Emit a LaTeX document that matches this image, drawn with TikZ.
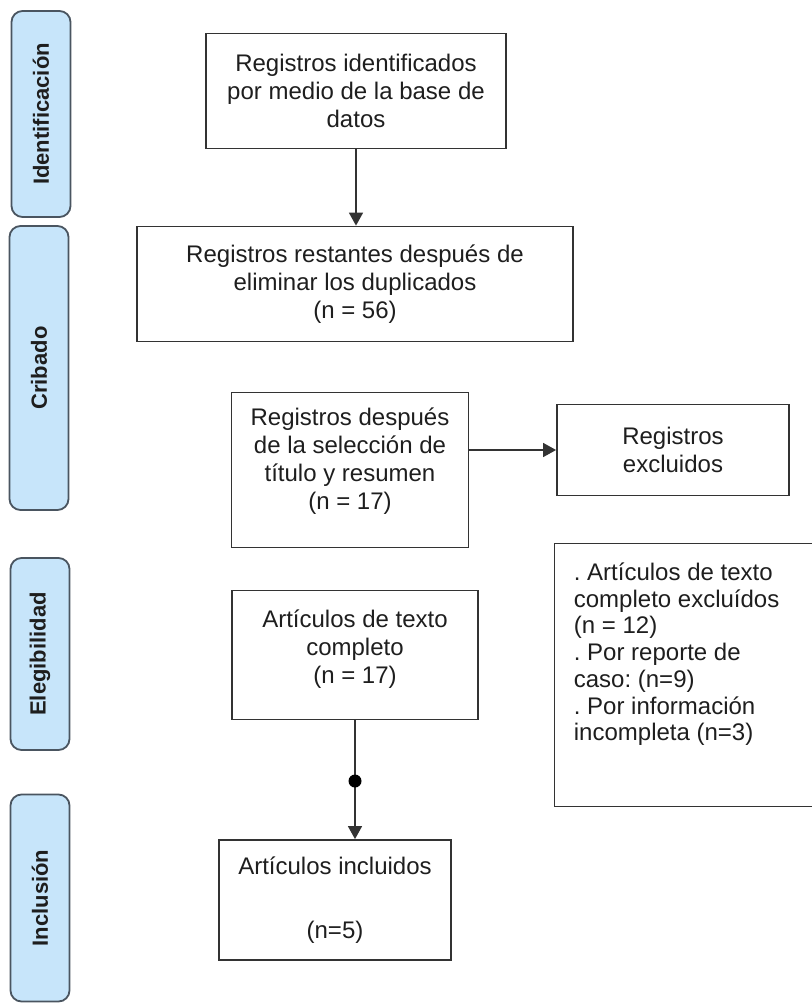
\documentclass[tikz,border=0pt]{standalone}
\usepackage{fontspec}
\setmainfont{Liberation Sans}
\usetikzlibrary{arrows.meta}
\definecolor{stagefill}{HTML}{C7E5FA}
\definecolor{stageline}{HTML}{4A5560}
\definecolor{boxline}{HTML}{333333}
\definecolor{txt}{HTML}{1E1E1E}
\frenchspacing

\begin{document}
\begin{tikzpicture}[x=1pt,y=-1pt,
  stage node/.style={draw=stageline,fill=stagefill,line width=1.8pt,rounded corners=11pt,rotate=90,minimum height=59pt,inner sep=0pt,font=\fontsize{22}{26}\selectfont\bfseries,text=txt},
  main node/.style={draw=boxline,line width=1.8pt,inner sep=0pt,align=center,font=\fontsize{24}{28}\selectfont,text=txt},
  dot node/.style={circle,fill=black,inner sep=0pt,minimum size=13pt}]

  \useasboundingbox (0,0) rectangle (812,1005);

  % stages
  \node[stage node,minimum width=206pt] at (41,114) (ident) {Identificación};
  \node[stage node,minimum width=284pt] at (39,368) (crib) {Cribado};
  \node[stage node,minimum width=192pt] at (40,654) (eleg) {Elegibilidad};
  \node[stage node,minimum width=207pt] at (40,898) (inclu) {Inclusión};

  % boxes
  \node[main node,minimum width=300pt,minimum height=115pt] at (356,91) (regs) {Registros identificados\\por medio de la base de\\datos};
  \node[main node,minimum width=436pt,minimum height=115pt] at (355,284) (dup) {Registros restantes después de\\eliminar los duplicados\\(n = 56)};
  \node[main node,minimum width=237pt,minimum height=155pt] at (350,470) (title) {Registros después\\de la selección de\\título y resumen\\(n = 17)\\[-6pt]\mbox{}};
  \node[main node,minimum width=232pt,minimum height=91pt] at (673,450) (excl) {Registros\\excluidos};
  \node[main node,minimum width=265pt,minimum height=263pt] at (687,675) (fullexcl) {};
  \node[main node,draw=none,anchor=north west,align=left,font=\fontsize{24}{26.7}\selectfont] at (573,562) (fullexcltext) {. Artículos de texto\\completo excluídos\\(n = 12)\\. Por reporte de\\caso: (n=9)\\. Por información\\incompleta (n=3)};
  \node[main node,minimum width=246pt,minimum height=129pt] at (355,655) (fulltext) {Artículos de texto\\completo\\(n = 17)\\[-12pt]\mbox{}};
  \node[main node,minimum width=232pt,minimum height=120pt] at (335,900) (incl) {Artículos incluidos\\[36pt](n=5)};

  \path[-{Triangle[width=14pt,length=13pt]},color=boxline,line width=1.5pt]
  (regs.south) edge (regs.south |- dup.north)
  (title.east |- excl.west) edge (excl.west)
  (fulltext.south) edge (fulltext.south |- incl.north);

  \node[dot node] at (fulltext.south |- 0,781) (mid) {};
\end{tikzpicture}
\end{document}
